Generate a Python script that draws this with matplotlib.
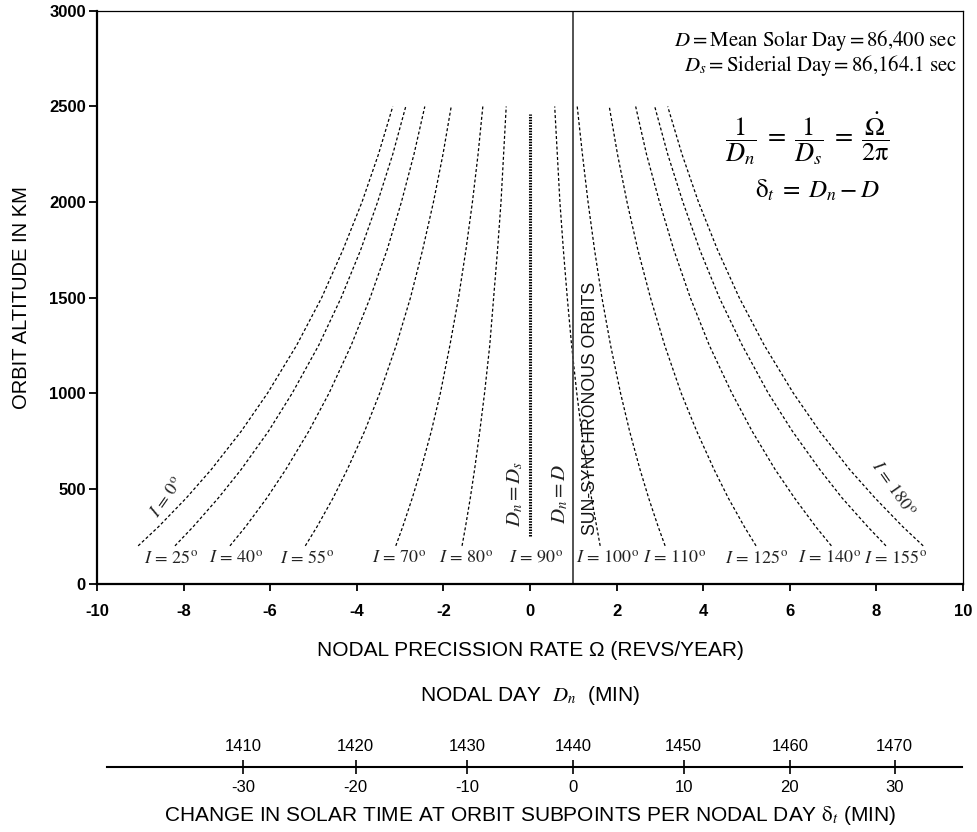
import matplotlib
matplotlib.use("Agg")
import matplotlib.pyplot as plt

plt.rcParams['font.family'] = ['Liberation Sans', 'DejaVu Sans']
plt.rcParams['mathtext.fontset'] = 'stix'

# ---------------- data ----------------
altitudes = [200, 300, 450, 600, 800, 1000, 1250, 1500, 1750, 2000, 2250, 2500]

rate_i0   = [-9.05, -8.58, -7.94, -7.36, -6.67, -6.06, -5.39, -4.81, -4.32, -3.88, -3.50, -3.17]
rate_i25  = [-8.20, -7.78, -7.20, -6.67, -6.04, -5.49, -4.88, -4.36, -3.91, -3.52, -3.17, -2.87]
rate_i40  = [-6.93, -6.57, -6.08, -5.64, -5.11, -4.64, -4.13, -3.69, -3.30, -2.97, -2.68, -2.43]
rate_i55  = [-5.19, -4.92, -4.55, -4.22, -3.82, -3.47, -3.09, -2.76, -2.48, -2.23, -2.01, -1.82]
rate_i70  = [-3.10, -2.94, -2.72, -2.52, -2.28, -2.07, -1.85, -1.65, -1.48, -1.33, -1.20, -1.09]
rate_i80  = [-1.57, -1.49, -1.38, -1.28, -1.16, -1.05, -0.93, -0.84, -0.75, -0.67, -0.61, -0.55]
rate_i100 = [1.62, 1.54, 1.42, 1.32, 1.19, 1.08, 0.96, 0.86, 0.77, 0.69, 0.63, 0.57]
rate_i110 = [3.12, 2.96, 2.74, 2.54, 2.30, 2.09, 1.86, 1.66, 1.49, 1.34, 1.21, 1.09]
rate_i125 = [5.22, 4.95, 4.58, 4.25, 3.85, 3.49, 3.11, 2.78, 2.49, 2.24, 2.02, 1.83]
rate_i140 = [6.96, 6.60, 6.11, 5.66, 5.13, 4.66, 4.14, 3.70, 3.32, 2.99, 2.69, 2.44]
rate_i155 = [8.22, 7.80, 7.21, 6.69, 6.06, 5.50, 4.90, 4.37, 3.92, 3.53, 3.18, 2.88]
rate_i180 = [9.08, 8.61, 7.97, 7.38, 6.69, 6.08, 5.41, 4.83, 4.33, 3.89, 3.51, 3.18]

polar_rate = [0.0, 0.0]
polar_alt = [250, 2460]

sunsync_rate = 1.0

# bottom labels of the curves
label_texts = ['25', '40', '55', '70', '80', '90', '100', '110', '125', '140', '155']
label_rates = [-8.29, -6.79, -5.15, -3.03, -1.48, 0.14, 1.80, 3.35, 5.24, 6.93, 8.45]

# nodal day scale
nodal_day_ticks = [1410, 1420, 1430, 1440, 1450, 1460, 1470]
delta_t_ticks = [-30, -20, -10, 0, 10, 20, 30]
scale_rates = [-6.62, -4.03, -1.45, 1.0, 3.55, 6.0, 8.42]

x_ticks = [-10, -8, -6, -4, -2, 0, 2, 4, 6, 8, 10]
y_ticks = [0, 500, 1000, 1500, 2000, 2500, 3000]

# ---------------- figure ----------------
fig = plt.figure(figsize=(9.77, 8.32), dpi=100)
ax = fig.add_axes([0.0993, 0.298, 0.8864, 0.6888])

dash = (0, (2.4, 1.8))
for rates in [rate_i0, rate_i25, rate_i40, rate_i55, rate_i70, rate_i80,
              rate_i100, rate_i110, rate_i125, rate_i140, rate_i155, rate_i180]:
    ax.plot(rates, altitudes, color='black', lw=0.9, ls=dash)

ax.plot(polar_rate, polar_alt, color='black', lw=2.2, ls=(0, (0.5, 0.4)))
ax.axvline(sunsync_rate, color='#444444', lw=1.3)

ax.set_xlim(-10, 10)
ax.set_ylim(0, 3000)
ax.set_xticks(x_ticks)
ax.set_yticks(y_ticks)
ax.set_xticklabels([str(v) for v in x_ticks], fontweight='bold', fontsize=12)
ax.set_yticklabels([str(v) for v in y_ticks], fontweight='bold', fontsize=12)
ax.tick_params(axis='x', direction='out', length=5, width=1.3, pad=9)
ax.tick_params(axis='y', direction='out', length=6, width=1.3, pad=2)
for s in ['left', 'bottom']:
    ax.spines[s].set_linewidth(1.6)
for s in ['top', 'right']:
    ax.spines[s].set_linewidth(0.9)

ax.set_xlabel('NODAL PRECISSION RATE \u03a9 (REVS/YEAR)', fontsize=15, labelpad=16)
ax.set_ylabel('ORBIT ALTITUDE IN KM', fontsize=14.5, labelpad=13)

# inclination labels
for t, r in zip(label_texts, label_rates):
    ax.text(r, 136, r'$I\,=\,%s^{\mathrm{o}}$' % t, fontsize=13,
            ha='center', va='center', color='#222222')
ax.text(-8.38, 455, r'$I\,=\,0^{\mathrm{o}}$', fontsize=13, rotation=55,
        ha='center', va='center', color='#222222')
ax.text(8.38, 500, r'$I\,=\,180^{\mathrm{o}}$', fontsize=13, rotation=-55,
        ha='center', va='center', color='#222222')

ax.text(-0.35, 470, r'$D_n = D_s$', fontsize=15, rotation=90,
        ha='center', va='center', color='#222222')
ax.text(0.69, 470, r'$D_n = D$', fontsize=15, rotation=90,
        ha='center', va='center', color='#222222')
ax.text(1.40, 255, 'SUN-SYNCHRONOUS ORBITS', fontsize=12.7, rotation=90,
        ha='center', va='bottom', color='#111111')

ax.text(9.86, 2843, r'$D = \mathrm{Mean\ Solar\ Day} = 86{,}400\ \mathrm{sec}$',
        fontsize=15, ha='right', va='center')
ax.text(9.86, 2712, r'$D_s = \mathrm{Siderial\ Day} = 86{,}164.1\ \mathrm{sec}$',
        fontsize=15, ha='right', va='center')
ax.text(6.4, 2330,
        r'$\dfrac{1}{D_n}\;=\;\dfrac{1}{D_s}\;=\;\dfrac{\dot{\Omega}}{2\mathrm{\pi}}$',
        fontsize=19, ha='center', va='center')
ax.text(6.65, 2063, r'$\mathrm{\delta}_t\;=\;D_n - D$', fontsize=18,
        ha='center', va='center')

# ---------------- nodal day scale ----------------
ax2 = fig.add_axes([0.0993, 0.0781, 0.8864, 0.0001])
ax2.set_xlim(-10, 10)
ax2.set_ylim(0, 1)
for s in ['top', 'left', 'right']:
    ax2.spines[s].set_visible(False)
ax2.spines['bottom'].set_bounds(-9.77, 9.98)
ax2.spines['bottom'].set_linewidth(1.5)
ax2.set_yticks([])
ax2.set_xticks(scale_rates)
ax2.set_xticklabels([str(v) for v in delta_t_ticks], fontsize=12)
ax2.tick_params(axis='x', direction='inout', length=10, width=1.2, pad=4)
ax2.set_xlabel('CHANGE IN SOLAR TIME AT ORBIT SUBPOINTS PER NODAL DAY $\\mathrm{\\delta}_t$ (MIN)',
               fontsize=15, labelpad=7)

ax3 = ax2.twiny()
ax3.set_xlim(-10, 10)
for s in ['top', 'left', 'right', 'bottom']:
    ax3.spines[s].set_visible(False)
ax3.set_xticks(scale_rates)
ax3.set_xticklabels([str(v) for v in nodal_day_ticks], fontsize=12)
ax3.tick_params(axis='x', direction='inout', length=0, pad=9)
ax3.set_xlabel('NODAL DAY  $D_n$  (MIN)', fontsize=15, labelpad=28)

fig.savefig('out.png', dpi=100)
